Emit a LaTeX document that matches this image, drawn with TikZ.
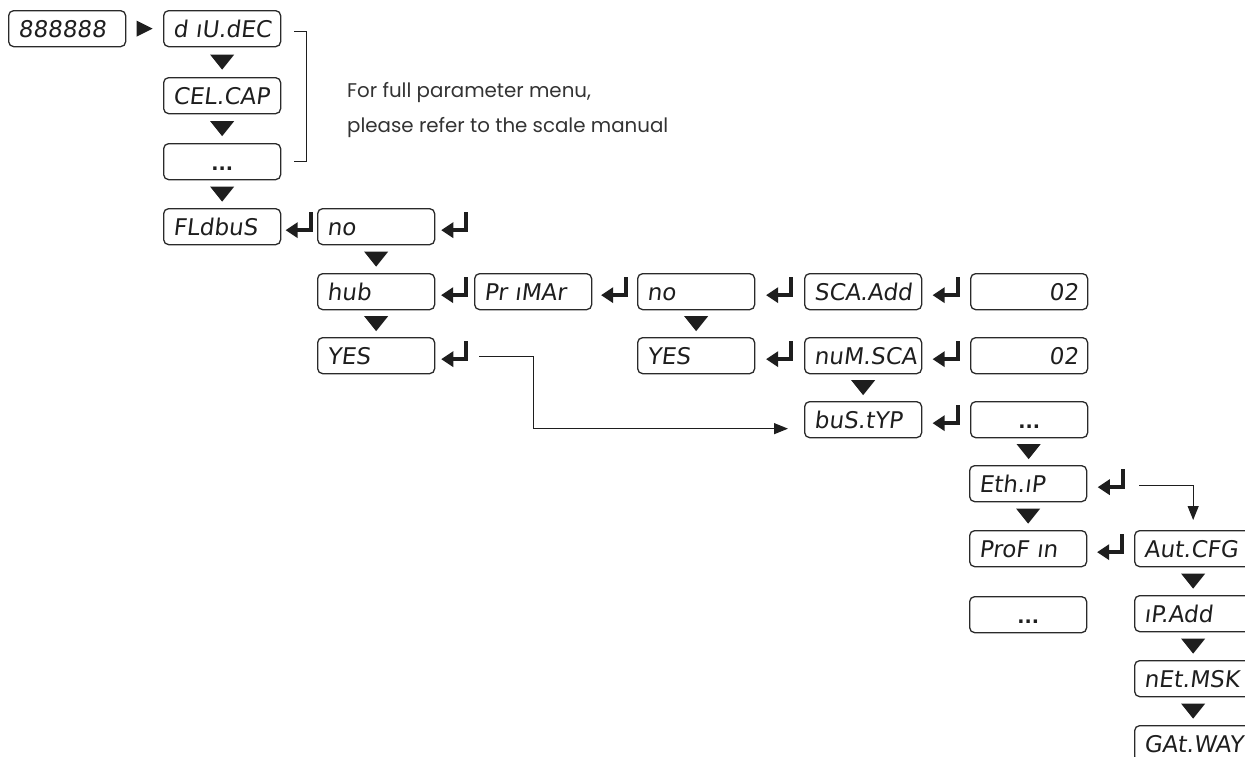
\documentclass[tikz,border=0pt]{standalone}
\usepackage{fontspec}
\setmainfont{Poppins}
\newfontfamily\segfont[FakeSlant=0.12]{DejaVu Sans}
\newfontfamily\dotfont{DejaVu Sans}
\usetikzlibrary{calc,arrows.meta}
\definecolor{ink}{HTML}{1E1E1E}
\definecolor{boxc}{HTML}{2A2A2A}
\definecolor{notec}{HTML}{333333}
\begin{document}
\begin{tikzpicture}[x=1pt,y=-1pt,
  box/.style={draw=boxc, line width=1.3pt, rounded corners=5pt, minimum height=36pt,
    text width=98pt, inner xsep=9.5pt, inner ysep=0pt, align=left, anchor=north west,
    text height=17pt, text depth=0pt, text=ink,
    font=\segfont\fontsize{23pt}{23pt}\selectfont},
  rbox/.style={box, align=right},
  dbox/.style={box, align=center, font=\dotfont\bfseries\fontsize{19pt}{19pt}\selectfont},
  conn/.style={draw=ink, line width=1.2pt},
  tipend/.style={-{Triangle[length=14pt,width=11pt]}},
  note/.style={font=\fontsize{19.8pt}{19.8pt}\selectfont, text=notec, inner sep=0pt},
  enter/.pic={
    \fill[ink] (-13.5,3.5) -- (-1.5,-4.5) -- (-1.5,11.5) -- cycle;
    \fill[ink] (-2,1.5) rectangle (13.5,5.5);
    \fill[ink] (9.5,-14.5) rectangle (13.5,5.5);
  },
  downtri/.pic={
    \fill[ink] (-12,-7.5) -- (12,-7.5) -- (0,7.5) -- cycle;
  },
  righttri/.pic={
    \fill[ink] (-8,-8) -- (-8,8) -- (8,0) -- cycle;
  },
]
\useasboundingbox (0,0) rectangle (1245,756);

% boxes
\node[box] (n888) at (8,10) {888888};
\node[box] (divdec) at (163,10) {d ıU.dEC};
\node[box] (celcap) at (163,77) {CEL.CAP};
\node[dbox] (more1) at (163,143) {...};
\node[box] (fldbus) at (163,208) {FLdbuS};
\node[box] (no1) at (317,208) {no};
\node[box] (hub) at (317,273) {hub};
\node[box] (yes1) at (317,337) {YES};
\node[box] (primar) at (474,273) {Pr ıMAr};
\node[box] (no2) at (637,273) {no};
\node[box] (yes2) at (637,337) {YES};
\node[box] (scaadd) at (804,273) {SCA.Add};
\node[rbox] (val1) at (970,273) {02};
\node[box] (numsca) at (804,337) {nuM.SCA};
\node[rbox] (val2) at (970,337) {02};
\node[box] (bustyp) at (804,401) {buS.tYP};
\node[dbox] (more2) at (970,401) {...};
\node[box] (ethip) at (969,465) {Eth.ıP};
\node[box] (profin) at (969,530) {ProF ın};
\node[dbox] (more3) at (969,596) {...};
\node[box] (autcfg) at (1134,530) {Aut.CFG};
\node[box] (ipadd) at (1134,595) {ıP.Add};
\node[box] (netmsk) at (1134,660) {nEt.MSK};
\node[box] (gatway) at (1134,725) {GAt.WAY};

% note
\node[note, anchor=base west] (note1) at (347,97) {For full parameter menu,};
\node[note, anchor=base west] (note2) at (347,132) {please refer to the scale manual};

% bracket
\draw[conn] ($(divdec.east)+(13,3)$) -- ++(12,0) |- ($(more1.east)+(13,0)$);

% right triangle
\pic at ($(n888.east)!0.5!(divdec.west)$) {righttri};

% down triangles
\pic at ($(divdec.south)!0.5!(celcap.north)$) {downtri};
\pic at ($(celcap.south)!0.5!(more1.north)$) {downtri};
\pic at ($(more1.south)!0.5!(fldbus.north)$) {downtri};
\pic at ($(no1.south)!0.5!(hub.north)$) {downtri};
\pic at ($(hub.south)!0.5!(yes1.north)$) {downtri};
\pic at ($(no2.south)!0.5!(yes2.north)$) {downtri};
\pic at ($(numsca.south)!0.5!(bustyp.north)$) {downtri};
\pic at ($(more2.south)!0.5!(ethip.north)$) {downtri};
\pic at ($(ethip.south)!0.5!(profin.north)$) {downtri};
\pic at ($(autcfg.south)!0.5!(ipadd.north)$) {downtri};
\pic at ($(ipadd.south)!0.5!(netmsk.north)$) {downtri};
\pic at ($(netmsk.south)!0.5!(gatway.north)$) {downtri};

% enter arrows
\pic at ($(fldbus.east)!0.5!(no1.west)$) {enter};
\pic at ($(no1.east)+(19.5,0)$) {enter};
\pic at ($(hub.east)!0.5!(primar.west)$) {enter};
\pic at ($(yes1.east)+(19.5,0)$) {enter};
\pic at ($(primar.east)!0.5!(no2.west)$) {enter};
\pic at ($(no2.east)!0.5!(scaadd.west)$) {enter};
\pic at ($(scaadd.east)!0.5!(val1.west)$) {enter};
\pic at ($(yes2.east)!0.5!(numsca.west)$) {enter};
\pic at ($(numsca.east)!0.5!(val2.west)$) {enter};
\pic at ($(bustyp.east)!0.5!(more2.west)$) {enter};
\pic at ($(ethip.east)+(24,0)$) {enter};
\pic at ($(profin.east)!0.5!(autcfg.west)$) {enter};

% connectors
\coordinate (ya) at ($(yes1.east)+(44,1)$);
\draw[conn,tipend] (ya) -- ++(54,0) |- ($(bustyp.west)+(-16,9)$);
\coordinate (eb) at ($(ethip.east)+(52,2)$);
\draw[conn,tipend] (eb) -| ($(autcfg.north)+(0,-10)$);
\end{tikzpicture}
\end{document}
